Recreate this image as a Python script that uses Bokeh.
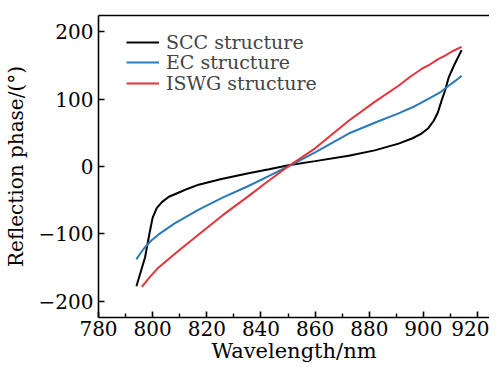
from bokeh.plotting import figure
from bokeh.models import Legend, LegendItem, LinearAxis, CustomJSTickFormatter, FixedTicker, Range1d
from bokeh.embed import file_html
from bokeh.resources import INLINE

# Data
scc_x = [794.0, 795.5, 797.2, 798.8, 800.0, 801.5, 803.4, 806.0, 809.5, 813.0, 817.0, 825.0, 835.4, 843.0, 850.2, 860.0, 872.4, 882.0, 890.8, 896.0, 899.3, 901.8, 903.8, 905.3, 906.7, 908.0, 909.3, 911.5, 914.1]
scc_y = [-178, -158, -135, -100, -76, -62, -53, -45, -39, -33, -27, -19, -10, -4, 2, 8, 16, 24, 34, 42, 49, 57, 68, 80, 98, 113, 132, 152, 173]

ec_x = [794.0, 795.5, 797.2, 799.5, 802.2, 808.0, 817.0, 826.0, 835.4, 843.0, 850.0, 860.0, 872.4, 882.0, 890.8, 897.0, 903.0, 906.5, 909.3, 912.0, 914.1]
ec_y = [-138, -129, -120, -110, -101, -85, -64, -46, -29, -14, 0, 21, 49, 65, 79, 90, 103, 111, 120, 128, 135]

iswg_x = [796.0, 799.0, 802.2, 809.0, 817.0, 826.0, 835.4, 841.6, 850.0, 860.0, 872.4, 882.0, 890.8, 895.0, 899.3, 902.5, 905.6, 908.0, 910.5, 914.1]
iswg_y = [-179, -164, -150, -127, -101, -72, -44, -25, 0, 27, 68, 96, 120, 133, 145, 152, 160, 165, 171, 178]

series_names = ["SCC structure", "EC structure", "ISWG structure"]
series_colors = ["#000000", "#2a7ab7", "#e0353b"]

x_ticks = [780, 800, 820, 840, 860, 880, 900, 920]
y_ticks = [-200, -100, 0, 100, 200]

FONT = "DejaVu Serif"
FS = "20px"

p = figure(frame_width=391, frame_height=302, output_backend="svg", toolbar_location=None,
           x_range=Range1d(780, 924.4), y_range=Range1d(-224.5, 224.5),
           min_border_left=94, min_border_top=15, min_border_bottom=40, min_border_right=0)
p.outline_line_color = None
p.grid.visible = False
p.background_fill_color = "white"
p.border_fill_color = "white"

renderers = []
for xs, ys, c in zip([scc_x, ec_x, iswg_x], [scc_y, ec_y, iswg_y], series_colors):
    r = p.line(xs, ys, line_color=c, line_width=2)
    renderers.append(r)

xa = p.xaxis[0]
ya = p.yaxis[0]
xa.ticker = FixedTicker(ticks=x_ticks, minor_ticks=[790 + 20 * i for i in range(8)])
ya.ticker = FixedTicker(ticks=y_ticks, minor_ticks=[])
ya.formatter = CustomJSTickFormatter(code="return tick < 0 ? '\u2212' + Math.abs(tick) : tick.toString();")

for ax in (xa, ya):
    ax.axis_line_width = 1.6
    ax.axis_line_color = "black"
    ax.major_tick_in = 6
    ax.major_tick_out = 0
    ax.minor_tick_in = 4
    ax.minor_tick_out = 0
    ax.major_tick_line_width = 1.6
    ax.minor_tick_line_width = 1.4
    ax.major_label_text_font = FONT
    ax.major_label_text_font_size = FS
    ax.major_label_text_color = "black"
    ax.axis_label_text_font = FONT
    ax.axis_label_text_font_style = "normal"
    ax.axis_label_text_color = "black"

xa.axis_label = "Wavelength/nm"
ya.axis_label = "Reflection phase/(°)"
xa.axis_label_text_font_size = "21px"
ya.axis_label_text_font_size = "20px"
xa.major_label_standoff = 3
ya.major_label_standoff = 5
xa.axis_label_standoff = 0
ya.axis_label_standoff = 8

top = LinearAxis(major_tick_line_color=None, minor_tick_line_color=None,
                 major_tick_in=0, major_tick_out=0, minor_tick_in=0, minor_tick_out=0,
                 major_label_standoff=0, major_label_text_font_size="0px", axis_line_width=1.6)
top.ticker = FixedTicker(ticks=[])
p.add_layout(top, "above")

# one legend per entry so that rows can sit closer than the font's line height
legend_bottoms = [262, 242, 221]
for n, r, yb in zip(series_names, renderers, legend_bottoms):
    lg = Legend(items=[LegendItem(label=n, renderers=[r])],
                location=(28, yb), padding=0, margin=0, spacing=0,
                glyph_width=33, glyph_height=26, label_height=26, label_standoff=7,
                label_text_font=FONT, label_text_font_size="19px",
                border_line_color=None, background_fill_alpha=0)
    p.add_layout(lg)

open("out.html", "w").write(file_html(p, INLINE))
